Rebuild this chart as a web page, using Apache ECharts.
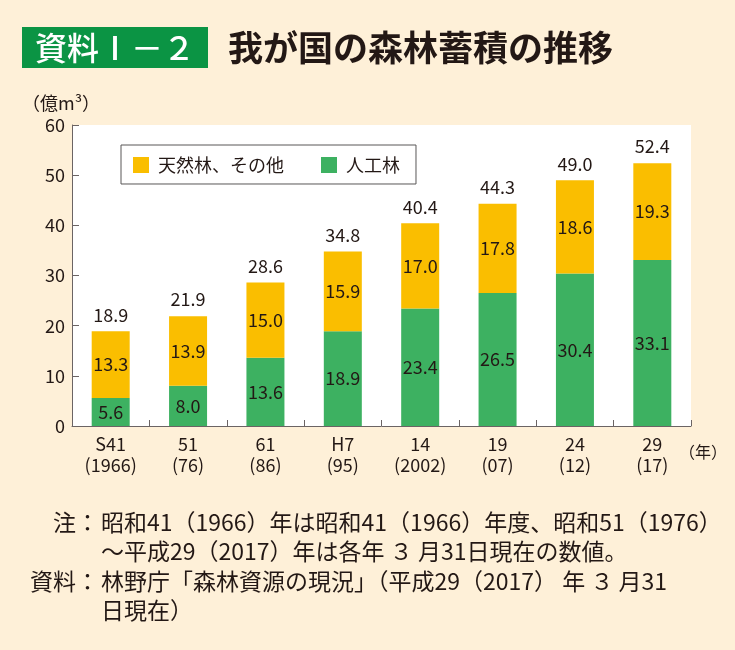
<!DOCTYPE html>
<html><head><meta charset="utf-8">
<script src="https://cdn.jsdelivr.net/npm/echarts@6/dist/echarts.min.js"></script>
<style>html,body{margin:0;padding:0;background:#fef0d8;}#c{width:735px;height:650px;}</style>
</head><body><div id="c"></div>
<script>
const categories = ['S41\n(1966)','51\n(76)','61\n(86)','H7\n(95)','14\n(2002)','19\n(07)','24\n(12)','29\n(17)'];
const planted = [5.6, 8.0, 13.6, 18.9, 23.4, 26.5, 30.4, 33.1];
const natural = [13.3, 13.9, 15.0, 15.9, 17.0, 17.8, 18.6, 19.3];
const totals = [18.9, 21.9, 28.6, 34.8, 40.4, 44.3, 49.0, 52.4];
const seriesNames = ['天然林、その他', '人工林'];
const titleBadge = '資料Ⅰ－２';
const titleText = '我が国の森林蓄積の推移';
const yUnit = '（億m³）';
const xUnit = '（年）';
const noteLabels = ['注：', '資料：'];
const noteLines = [
  '昭和41（1966）年は昭和41（1966）年度、昭和51（1976）',
  '～平成29（2017）年は各年 ３ 月31日現在の数値。',
  '林野庁「森林資源の現況」（平成29（2017） 年 ３ 月31',
  '日現在）'
];

const TXT = '#231815';
const AX = '#6b6464';
const FONT = '"Noto Sans CJK JP", "Noto Sans", sans-serif';
const chart = echarts.init(document.getElementById('c'), null, {renderer: 'canvas'});
const lbl = {show: true, position: 'inside', color: TXT, fontSize: 18, fontFamily: FONT, formatter: p => p.value.toFixed(1)};
chart.setOption({
  backgroundColor: '#fef0d8',
  animation: false,
  textStyle: {fontFamily: FONT},
  grid: {left: 72, right: 44, top: 125, bottom: 224, show: true, backgroundColor: '#ffffff', borderWidth: 0},
  legend: {
    data: seriesNames, left: 121, top: 145, orient: 'horizontal',
    padding: [11, 16, 10, 12], itemGap: 37, itemWidth: 16, itemHeight: 16,
    borderColor: '#595757', borderWidth: 1, backgroundColor: '#ffffff',
    icon: 'rect', textStyle: {fontSize: 18, color: TXT, fontFamily: FONT, padding: [0, 0, 0, 4]}
  },
  xAxis: {
    type: 'category', data: categories,
    axisLine: {lineStyle: {color: AX, width: 1}},
    axisTick: {show: true, inside: true, length: 6, lineStyle: {color: AX}},
    axisLabel: {color: TXT, fontSize: 18, lineHeight: 21, margin: 8, fontFamily: FONT}
  },
  yAxis: {
    type: 'value', min: 0, max: 60, interval: 10,
    name: yUnit, nameLocation: 'end', nameGap: 13,
    nameTextStyle: {color: TXT, fontSize: 18, fontFamily: FONT, align: 'center', padding: [0, 22, 0, 0]},
    axisLine: {show: true, lineStyle: {color: AX, width: 1}},
    axisTick: {show: true, inside: true, length: 7, lineStyle: {color: AX}},
    splitLine: {show: false},
    axisLabel: {color: TXT, fontSize: 18, margin: 7, fontFamily: FONT}
  },
  series: [
    {name: seriesNames[1], type: 'bar', stack: 'a', data: planted, barWidth: 38,
     itemStyle: {color: '#3db161'}, label: lbl},
    {name: seriesNames[0], type: 'bar', stack: 'a', data: natural, barWidth: 38,
     itemStyle: {color: '#fabe00'}, label: lbl},
    {name: 'total', type: 'scatter', data: totals, symbolSize: 1, itemStyle: {color: 'rgba(0,0,0,0)', opacity: 1}, silent: true,
     label: {show: true, position: 'top', distance: 7, color: TXT, fontSize: 18, fontFamily: FONT, formatter: p => p.value.toFixed(1)}}
  ],
  graphic: [
    {type: 'rect', shape: {x: 22, y: 27, width: 186, height: 41}, style: {fill: '#0b9444'}},
    {type: 'text', style: {x: 115, y: 48, text: titleBadge, fill: '#ffffff', font: '500 32px ' + FONT, textAlign: 'center', textVerticalAlign: 'middle'}},
    {type: 'text', style: {x: 228, y: 48, text: titleText, fill: TXT, font: 'bold 35px ' + FONT, textAlign: 'left', textVerticalAlign: 'middle'}},
    {type: 'text', style: {x: 679, y: 452, text: xUnit, fill: TXT, font: '16px ' + FONT, textAlign: 'left', textVerticalAlign: 'middle'}},
    {type: 'text', style: {x: 99, y: 522, text: noteLabels[0], fill: TXT, font: '23px ' + FONT, textAlign: 'right', textVerticalAlign: 'middle'}},
    {type: 'text', style: {x: 101, y: 522, text: noteLines[0], fill: TXT, font: '23px ' + FONT, textAlign: 'left', textVerticalAlign: 'middle'}},
    {type: 'text', style: {x: 101, y: 551, text: noteLines[1], fill: TXT, font: '23px ' + FONT, textAlign: 'left', textVerticalAlign: 'middle'}},
    {type: 'text', style: {x: 99, y: 581, text: noteLabels[1], fill: TXT, font: '23px ' + FONT, textAlign: 'right', textVerticalAlign: 'middle'}},
    {type: 'text', style: {x: 101, y: 581, text: noteLines[2], fill: TXT, font: '23px ' + FONT, textAlign: 'left', textVerticalAlign: 'middle'}},
    {type: 'text', style: {x: 101, y: 610, text: noteLines[3], fill: TXT, font: '23px ' + FONT, textAlign: 'left', textVerticalAlign: 'middle'}}
  ]
});
</script></body></html>
